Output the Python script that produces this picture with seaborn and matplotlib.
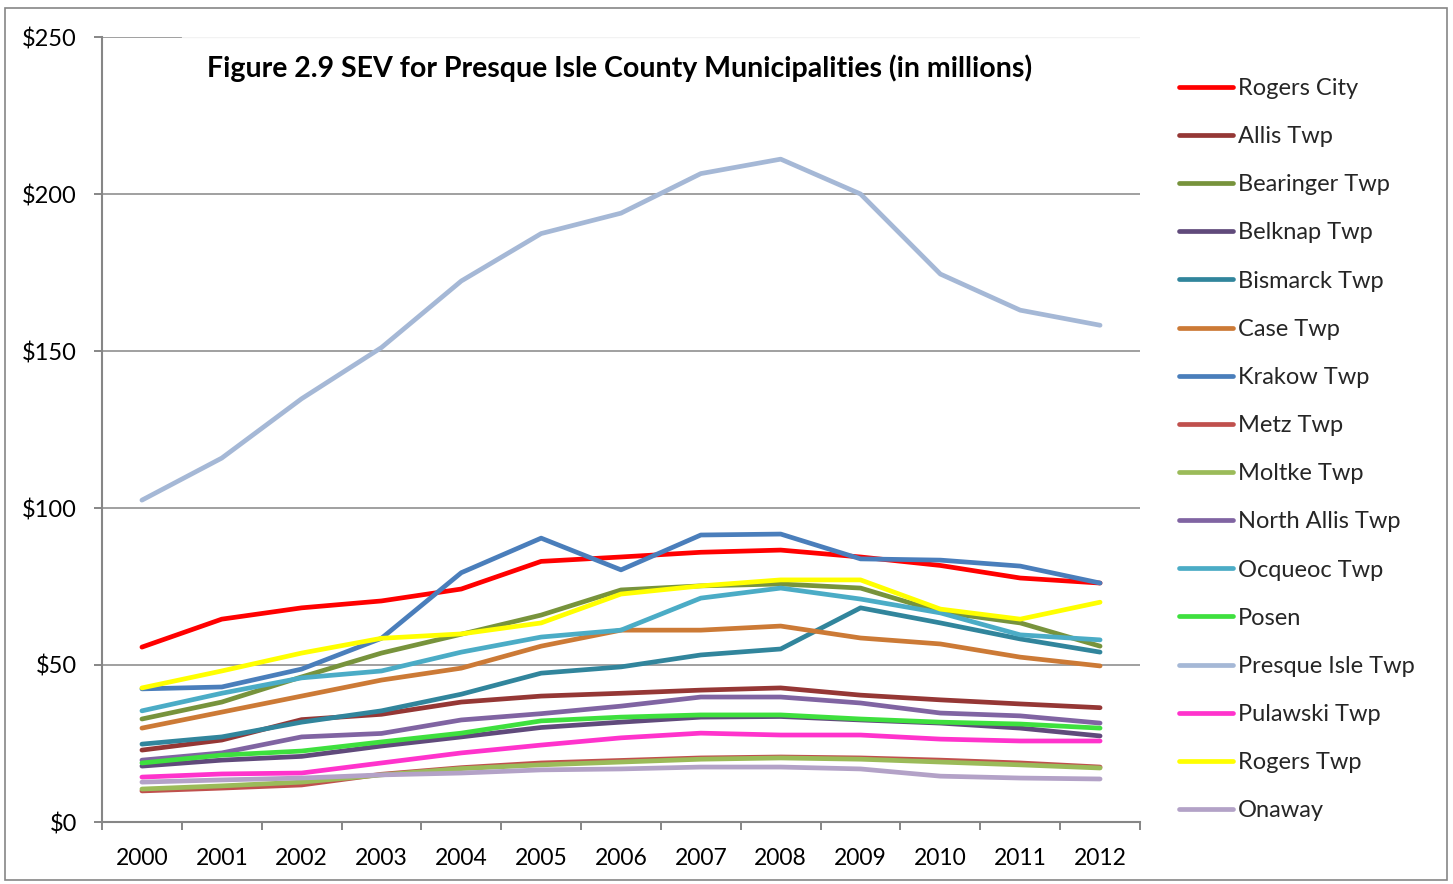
import numpy as np
import pandas as pd
import matplotlib
matplotlib.use("Agg")
import matplotlib.pyplot as plt
import matplotlib.patches as mpatches
import seaborn as sns

years = [2000, 2001, 2002, 2003, 2004, 2005, 2006, 2007, 2008, 2009, 2010, 2011, 2012]

rogers_city   = [55.7, 64.6, 68.2, 70.4, 74.2, 83.0, 84.4, 85.9, 86.6, 84.4, 81.7, 77.7, 76.1]
allis         = [22.9, 26.1, 32.6, 34.3, 38.2, 40.1, 41.0, 42.0, 42.7, 40.4, 38.9, 37.6, 36.4]
bearinger     = [32.8, 38.2, 46.2, 53.8, 59.8, 65.9, 73.9, 75.2, 75.8, 74.5, 66.9, 63.4, 56.0]
belknap       = [17.8, 19.7, 20.9, 24.2, 27.1, 30.1, 31.8, 33.4, 33.6, 32.5, 31.5, 29.9, 27.4]
bismarck      = [24.8, 27.1, 31.8, 35.4, 40.7, 47.4, 49.4, 53.2, 55.1, 68.2, 63.4, 58.3, 54.1]
case          = [29.9, 35.0, 40.1, 45.2, 49.0, 56.0, 61.1, 61.1, 62.4, 58.6, 56.7, 52.5, 49.7]
krakow        = [42.4, 43.0, 48.7, 58.5, 79.4, 90.4, 80.3, 91.4, 91.7, 83.8, 83.4, 81.5, 76.1]
metz          = [9.9, 10.8, 11.8, 15.2, 17.3, 18.8, 19.6, 20.4, 20.7, 20.4, 19.7, 18.8, 17.5]
moltke        = [10.5, 11.5, 12.7, 15.0, 17.0, 18.2, 19.1, 20.0, 20.4, 20.0, 19.1, 18.2, 17.2]
north_allis   = [19.7, 22.0, 27.1, 28.2, 32.5, 34.5, 36.9, 39.8, 39.8, 37.9, 34.7, 33.8, 31.5]
ocqueoc       = [35.4, 41.0, 45.9, 48.1, 54.1, 58.9, 61.1, 71.3, 74.5, 71.0, 66.6, 59.6, 58.0]
posen         = [18.8, 21.3, 22.6, 25.5, 28.3, 32.2, 33.4, 34.1, 34.1, 32.8, 31.8, 31.2, 29.9]
presque_isle  = [102.5, 115.9, 134.8, 151.1, 172.3, 187.4, 193.9, 206.5, 211.1, 200.0, 174.5, 163.0, 158.2]
pulawski      = [14.3, 15.3, 15.6, 18.8, 22.0, 24.5, 26.8, 28.3, 27.7, 27.7, 26.4, 25.8, 25.8]
rogers_twp    = [42.7, 48.1, 53.8, 58.5, 59.9, 63.4, 72.6, 75.2, 77.1, 77.1, 67.8, 64.6, 70.0]
onaway        = [12.7, 13.4, 14.0, 15.0, 15.6, 16.6, 16.9, 17.5, 17.5, 16.9, 14.6, 14.0, 13.7]

series_names = ["Rogers City", "Allis Twp", "Bearinger Twp", "Belknap Twp", "Bismarck Twp",
                "Case Twp", "Krakow Twp", "Metz Twp", "Moltke Twp", "North Allis Twp",
                "Ocqueoc Twp", "Posen", "Presque Isle Twp", "Pulawski Twp", "Rogers Twp", "Onaway"]
series_values = [rogers_city, allis, bearinger, belknap, bismarck, case, krakow, metz, moltke,
                 north_allis, ocqueoc, posen, presque_isle, pulawski, rogers_twp, onaway]
colors = ["#ff0000", "#953735", "#77933c", "#604a7b", "#31859c", "#cc7a36", "#4a7ebb",
          "#c0504d", "#9bbb59", "#8064a2", "#4bacc6", "#3ee03e", "#a5b8d6", "#ff33cc",
          "#ffff00", "#b3a2c7"]

yticks = [0, 50, 100, 150, 200, 250]
ytick_labels = ["$0", "$50", "$100", "$150", "$200", "$250"]
title_text = "Figure 2.9 SEV for Presque Isle County Municipalities (in millions)"

rows = []
for name, vals in zip(series_names, series_values):
    for y, v in zip(years, vals):
        rows.append({"Year": y, "Value": v, "Municipality": name})
df = pd.DataFrame(rows)

sns.set_style("white")
plt.rcParams["font.family"] = ["Lato", "DejaVu Sans"]

W, H = 1453, 884
fig = plt.figure(figsize=(W / 100, H / 100), dpi=100)
ax = fig.add_axes([102 / W, 1 - 822 / H, (1140 - 102) / W, (822 - 37) / H])

grid_c = "#868686"
for yv in yticks[1:-1]:
    ax.axhline(yv, color=grid_c, lw=1.1, zorder=0)
ax.axhline(250, xmin=0, xmax=(182 - 102) / (1140 - 102), color=grid_c, lw=1.1, zorder=0)
ax.axhline(250, xmin=(182 - 102) / (1140 - 102), xmax=1, color="#f2f2f2", lw=1.0, zorder=0)

sns.lineplot(data=df, x="Year", y="Value", hue="Municipality", hue_order=series_names,
             palette=dict(zip(series_names, colors)), linewidth=3.4, sort=False,
             estimator=None, ax=ax, legend=True)
for ln in ax.get_lines():
    ln.set_solid_capstyle("round")
    ln.set_solid_joinstyle("round")

ax.set_xlim(1999.5, 2012.5)
ax.set_ylim(0, 250)
ax.set_xlabel("")
ax.set_ylabel("")
ax.set_xticks(years)
ax.set_xticklabels([str(y) for y in years])
ax.set_xticks(np.arange(1999.5, 2013.0, 1.0), minor=True)
ax.tick_params(axis="x", which="major", length=0, pad=19, labelsize=16.5, colors="black")
ax.tick_params(axis="x", which="minor", length=6, width=1.4, color=grid_c, direction="out")
ax.set_yticks(yticks)
ax.set_yticklabels(ytick_labels)
ax.tick_params(axis="y", which="major", length=6, width=1.4, color=grid_c, pad=12,
               labelsize=17, direction="out", labelcolor="black")
ax.xaxis.set_ticks_position("bottom")
ax.yaxis.set_ticks_position("left")

for s in ["top", "right"]:
    ax.spines[s].set_visible(False)
for s in ["left", "bottom"]:
    ax.spines[s].set_color(grid_c)
    ax.spines[s].set_linewidth(1.5)

handles, labels = ax.get_legend_handles_labels()
ax.get_legend().remove()
leg = fig.legend(handles, labels, loc="upper left",
                 bbox_to_anchor=(1179 / W, 1 - 78 / H), frameon=False,
                 fontsize=17, handlelength=2.3, handletextpad=0.18,
                 labelspacing=1.15, borderpad=0, borderaxespad=0)
for lh in leg.get_lines():
    lh.set_linewidth(3.4)

fig.text(620 / W, 1 - 68 / H, title_text, ha="center", va="center",
         fontsize=20.5, fontweight="bold", color="black")

fig.patches.append(mpatches.Rectangle((5 / W, 1 - 880 / H), (1447 - 5) / W, (880 - 8) / H,
                                      transform=fig.transFigure, fill=False,
                                      edgecolor=grid_c, linewidth=1.2))

fig.savefig("out.png", dpi=100)
